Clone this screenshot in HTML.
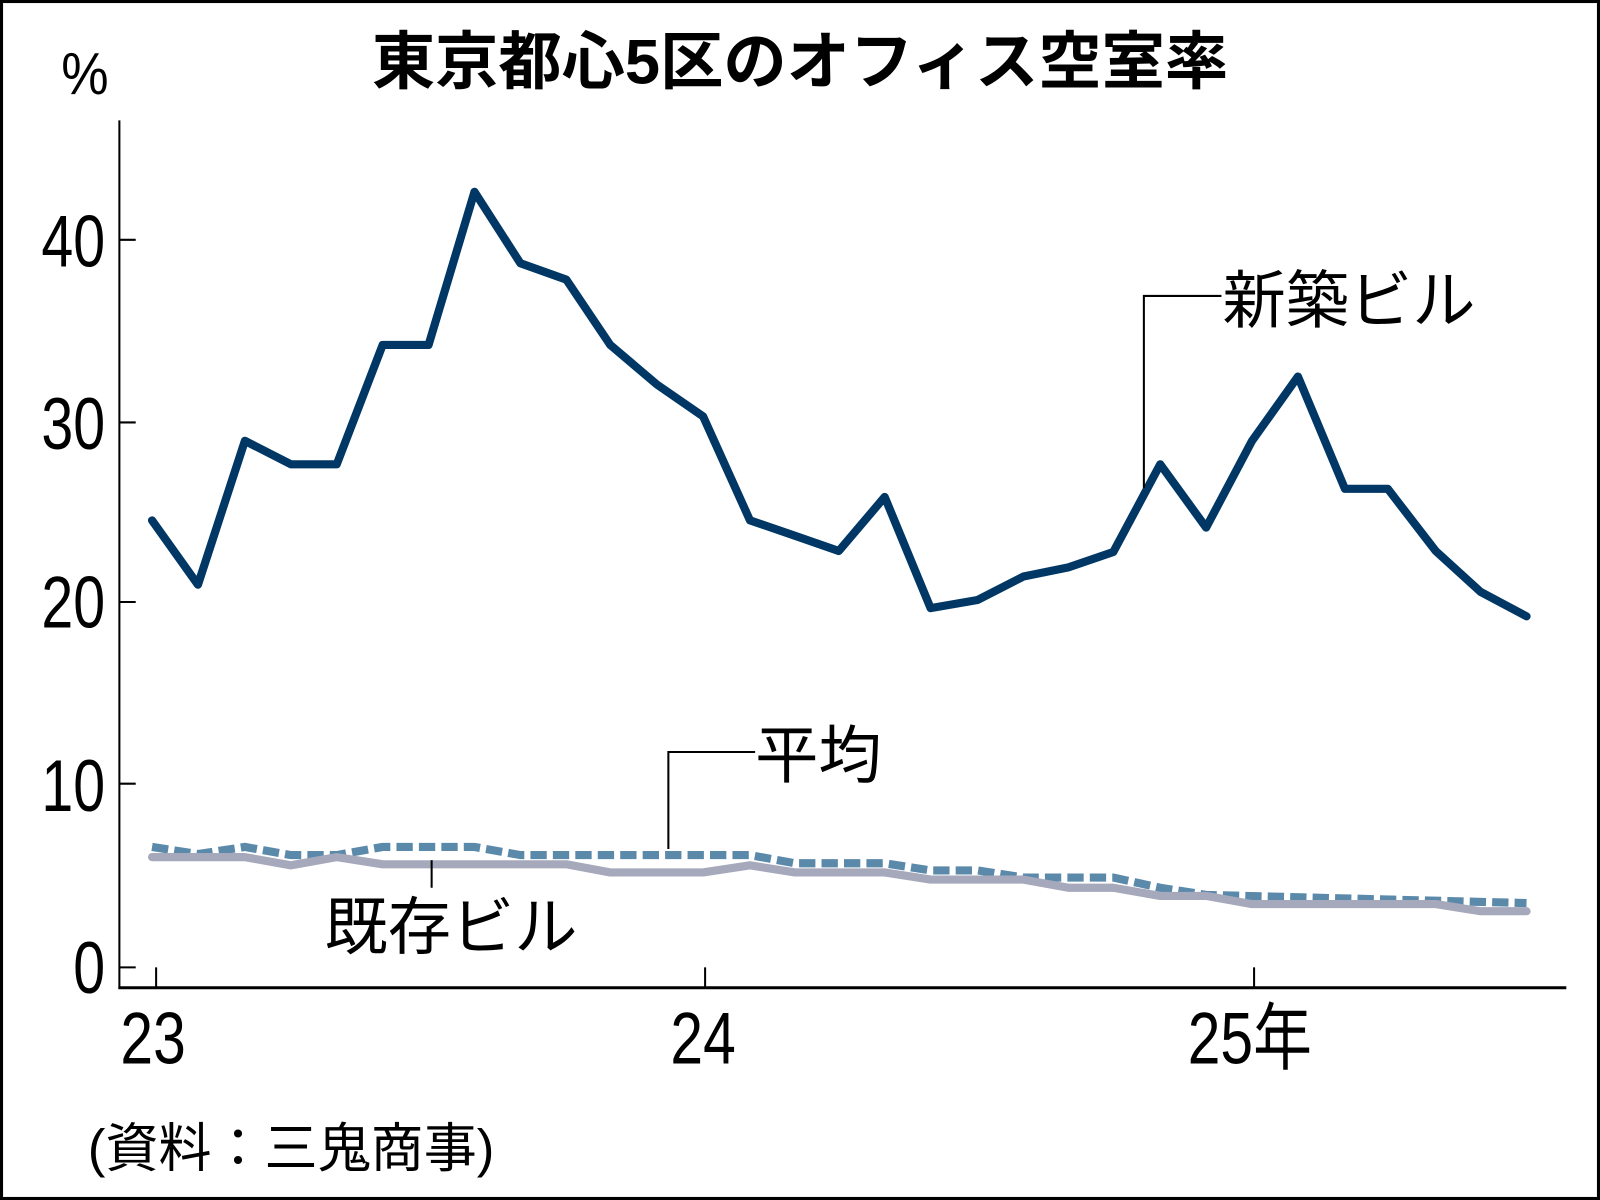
<!DOCTYPE html>
<html><head><meta charset="utf-8"><style>html,body{margin:0;padding:0;background:#fff}svg{display:block}</style></head><body>
<svg width="1600" height="1200" viewBox="0 0 1568 1176" preserveAspectRatio="none" xmlns="http://www.w3.org/2000/svg" font-family="'Liberation Sans','Noto Sans CJK JP',sans-serif">
<rect x="1.5" y="1.5" width="1565" height="1173" fill="#fff" stroke="#000" stroke-width="3"/>
<text x="784" y="82" font-size="62" font-weight="bold" text-anchor="middle">東京都心5区のオフィス空室率</text>
<text transform="translate(60,92) scale(0.9,1)" font-size="58">%</text>
<g stroke="#000" fill="none">
<line x1="117" y1="118" x2="117" y2="969" stroke-width="2"/>
<line x1="116" y1="968" x2="1535" y2="968" stroke-width="3"/>
<line x1="117" y1="948" x2="133" y2="948" stroke-width="2"/>
<line x1="117" y1="768" x2="133" y2="768" stroke-width="2"/>
<line x1="117" y1="590" x2="133" y2="590" stroke-width="2"/>
<line x1="117" y1="414" x2="133" y2="414" stroke-width="2"/>
<line x1="117" y1="235" x2="133" y2="235" stroke-width="2"/>
<line x1="153" y1="948" x2="153" y2="968" stroke-width="2"/>
<line x1="691" y1="948" x2="691" y2="968" stroke-width="2"/>
<line x1="1229" y1="948" x2="1229" y2="968" stroke-width="2"/>
</g>
<g font-size="72" text-anchor="end">
<text transform="translate(103,973) scale(0.78,1)">0</text>
<text transform="translate(103,795) scale(0.78,1)">10</text>
<text transform="translate(103,615) scale(0.78,1)">20</text>
<text transform="translate(103,440) scale(0.78,1)">30</text>
<text transform="translate(103,261) scale(0.78,1)">40</text>
</g>
<g font-size="72">
<text transform="translate(118,1042) scale(0.8,1)">23</text>
<text transform="translate(657,1042) scale(0.8,1)">24</text>
<text transform="translate(1164,1042) scale(0.8,1)">25年</text>
</g>
<text x="86" y="1143" font-size="52">(資料：三鬼商事)</text>
<polyline fill="none" stroke="#5b89aa" stroke-width="8" stroke-dasharray="16,6" points="149,830 194,837 240,830 285,838 330,838 375,830 465,830 510,838 735,838 779,846 867,846 912,853 958,853 1003,860 1091,860 1137,870 1182,877 1496,885"/>
<polyline fill="none" stroke="#a6a8bb" stroke-width="8" stroke-linejoin="round" stroke-linecap="round" points="149,840 240,840 285,848 330,840 375,847 555,847 598,855 689,855 735,848 779,855 867,855 912,862 1003,862 1047,870 1091,870 1137,878 1182,878 1227,886 1407,886 1451,893 1496,893"/>
<polyline fill="none" stroke="#003764" stroke-width="8" stroke-linejoin="round" stroke-linecap="round" points="149,510 194,573 240,432 285,455 330,455 375,338 420,338 465,188 510,258 555,274 598,338 644,377 689,408 735,510 779,525 822,540 867,487 912,596 958,588 1003,565 1047,556 1091,541 1137,455 1182,517 1227,432 1272,369 1318,479 1360,479 1407,540 1451,580 1496,604"/>
<g stroke="#000" stroke-width="2" fill="none">
<polyline points="1121,478 1121,290 1197,290"/>
<polyline points="655,832 655,737 740,737"/>
<line x1="423" y1="843" x2="423" y2="870"/>
</g>
<g font-size="62">
<text x="1198" y="316">新築ビル</text>
<text x="740" y="762">平均</text>
<text x="318" y="930">既存ビル</text>
</g>
</svg>
</body></html>
